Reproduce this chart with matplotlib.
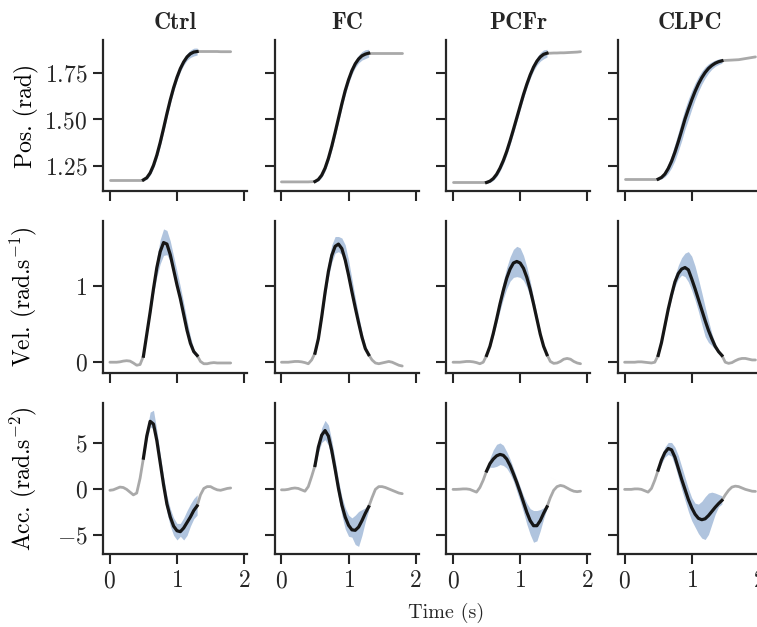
import matplotlib
matplotlib.use('Agg')
import matplotlib.pyplot as plt

# Data (time in s)
columns = ['Ctrl', 'FC', 'PCFr', 'CLPC']
row_labels = ['Pos. (rad)', 'Vel. (rad.s$^{-1}$)', 'Acc. (rad.s$^{-2}$)']

t_pre = [0.0, 0.05, 0.1, 0.15, 0.2, 0.25, 0.3, 0.35, 0.4, 0.45, 0.5]

# --- Ctrl ---
ctrl_t = [0.5, 0.55, 0.6, 0.65, 0.7, 0.75, 0.8, 0.85, 0.9, 0.95, 1.0, 1.05, 1.1, 1.15, 1.2, 1.25, 1.3]
ctrl_t_post = [1.3, 1.35, 1.4, 1.45, 1.5, 1.55, 1.6, 1.65, 1.7, 1.75, 1.8]
ctrl_pos_pre = [1.175, 1.175, 1.175, 1.175, 1.175, 1.175, 1.175, 1.175, 1.175, 1.175, 1.175]
ctrl_pos = [1.175, 1.186, 1.212, 1.253, 1.308, 1.376, 1.452, 1.531, 1.605, 1.671, 1.727, 1.774, 1.810, 1.837, 1.854, 1.863, 1.866]
ctrl_pos_hw = [0.004, 0.008, 0.012, 0.016, 0.019, 0.021, 0.022, 0.022, 0.021, 0.020, 0.018, 0.017, 0.017, 0.018, 0.020, 0.021, 0.019]
ctrl_pos_post = [1.866, 1.866, 1.866, 1.866, 1.866, 1.866, 1.866, 1.865, 1.865, 1.865, 1.865]
ctrl_vel_pre = [0.0, 0.0, 0.0, 0.005, 0.015, 0.02, 0.015, -0.01, -0.04, -0.03, 0.08]
ctrl_vel = [0.08, 0.37, 0.66, 0.97, 1.25, 1.46, 1.58, 1.56, 1.42, 1.22, 1.02, 0.84, 0.63, 0.42, 0.25, 0.14, 0.09]
ctrl_vel_lo = [0.07, 0.35, 0.62, 0.90, 1.13, 1.30, 1.41, 1.42, 1.33, 1.15, 0.96, 0.77, 0.57, 0.37, 0.21, 0.11, 0.07]
ctrl_vel_hi = [0.09, 0.40, 0.72, 1.06, 1.38, 1.62, 1.76, 1.74, 1.60, 1.40, 1.20, 1.00, 0.78, 0.55, 0.34, 0.18, 0.11]
ctrl_vel_post = [0.09, 0.01, -0.02, -0.02, -0.01, -0.005, -0.01, -0.01, -0.01, -0.01, -0.01]
ctrl_acc_pre = [-0.1, -0.05, 0.1, 0.25, 0.2, 0.0, -0.3, -0.6, -0.4, 1.2, 3.4]
ctrl_acc = [3.4, 5.8, 7.4, 7.1, 5.3, 2.9, 0.5, -1.6, -3.0, -4.0, -4.5, -4.6, -4.2, -3.6, -3.0, -2.3, -1.8]
ctrl_acc_lo = [3.1, 5.3, 6.8, 6.6, 4.6, 2.1, -0.4, -2.5, -4.0, -5.0, -5.5, -5.1, -5.5, -5.0, -4.0, -3.2, -2.8]
ctrl_acc_hi = [3.7, 6.4, 8.4, 8.6, 6.4, 3.8, 1.4, -0.7, -2.1, -3.1, -3.7, -3.7, -3.1, -2.3, -1.6, -1.0, -0.6]
ctrl_acc_post = [-1.8, -0.6, 0.1, 0.3, 0.3, 0.1, -0.05, -0.1, 0.0, 0.1, 0.15]

# --- FC ---
fc_t = [0.5, 0.55, 0.6, 0.65, 0.7, 0.75, 0.8, 0.85, 0.9, 0.95, 1.0, 1.05, 1.1, 1.15, 1.2, 1.25, 1.3]
fc_t_post = [1.3, 1.35, 1.4, 1.45, 1.5, 1.55, 1.6, 1.65, 1.7, 1.75, 1.8]
fc_pos_pre = [1.164, 1.164, 1.164, 1.164, 1.164, 1.164, 1.164, 1.164, 1.164, 1.165, 1.166]
fc_pos = [1.166, 1.177, 1.200, 1.238, 1.291, 1.356, 1.430, 1.507, 1.584, 1.655, 1.714, 1.763, 1.800, 1.826, 1.843, 1.852, 1.857]
fc_pos_hw = [0.004, 0.008, 0.012, 0.016, 0.019, 0.021, 0.023, 0.023, 0.023, 0.022, 0.021, 0.020, 0.020, 0.021, 0.023, 0.024, 0.021]
fc_pos_post = [1.857, 1.857, 1.857, 1.857, 1.857, 1.857, 1.857, 1.857, 1.857, 1.857, 1.857]
fc_vel_pre = [0.0, 0.0, 0.0, 0.005, 0.01, 0.01, 0.005, -0.005, -0.02, 0.03, 0.12]
fc_vel = [0.12, 0.31, 0.60, 0.92, 1.20, 1.41, 1.53, 1.56, 1.50, 1.35, 1.15, 0.93, 0.72, 0.52, 0.33, 0.18, 0.10]
fc_vel_lo = [0.10, 0.28, 0.55, 0.85, 1.12, 1.32, 1.44, 1.46, 1.42, 1.28, 1.07, 0.85, 0.66, 0.47, 0.29, 0.16, 0.09]
fc_vel_hi = [0.14, 0.35, 0.68, 1.02, 1.33, 1.55, 1.66, 1.66, 1.64, 1.55, 1.35, 1.10, 0.85, 0.62, 0.40, 0.22, 0.12]
fc_vel_post = [0.10, 0.03, -0.01, -0.02, -0.01, 0.0, 0.01, 0.0, -0.02, -0.04, -0.05]
fc_acc_pre = [-0.05, -0.05, 0.0, 0.1, 0.15, 0.1, -0.05, -0.2, 0.3, 1.4, 2.6]
fc_acc = [2.6, 4.6, 5.9, 6.4, 5.8, 4.2, 2.2, 0.1, -1.7, -3.0, -3.9, -4.4, -4.45, -4.1, -3.4, -2.6, -1.9]
fc_acc_lo = [2.3, 4.0, 5.1, 5.4, 4.8, 3.2, 1.2, -0.9, -2.8, -4.3, -5.1, -5.2, -6.0, -6.2, -5.0, -3.5, -2.3]
fc_acc_hi = [2.9, 5.1, 6.7, 7.5, 7.0, 5.3, 3.2, 1.0, -0.8, -2.0, -2.8, -3.1, -2.8, -2.4, -2.2, -2.0, -1.6]
fc_acc_post = [-1.9, -0.9, 0.0, 0.3, 0.3, 0.2, 0.05, -0.1, -0.25, -0.4, -0.47]

# --- PCFr ---
pcfr_t = [0.5, 0.55, 0.6, 0.65, 0.7, 0.75, 0.8, 0.85, 0.9, 0.95, 1.0, 1.05, 1.1, 1.15, 1.2, 1.25, 1.3, 1.35, 1.4]
pcfr_t_post = [1.4, 1.45, 1.5, 1.55, 1.6, 1.65, 1.7, 1.75, 1.8, 1.85, 1.9]
pcfr_pos_pre = [1.161, 1.161, 1.161, 1.161, 1.161, 1.161, 1.161, 1.161, 1.161, 1.161, 1.161]
pcfr_pos = [1.161, 1.168, 1.182, 1.205, 1.238, 1.279, 1.328, 1.385, 1.446, 1.509, 1.572, 1.634, 1.690, 1.740, 1.782, 1.814, 1.837, 1.851, 1.857]
pcfr_pos_hw = [0.004, 0.007, 0.010, 0.013, 0.016, 0.018, 0.020, 0.021, 0.022, 0.022, 0.021, 0.020, 0.019, 0.019, 0.020, 0.021, 0.023, 0.024, 0.021]
pcfr_pos_post = [1.857, 1.857, 1.858, 1.858, 1.859, 1.859, 1.860, 1.861, 1.862, 1.863, 1.865]
pcfr_vel_pre = [0.0, 0.0, 0.0, 0.005, 0.01, 0.01, 0.005, -0.005, -0.02, 0.0, 0.09]
pcfr_vel = [0.09, 0.21, 0.38, 0.57, 0.77, 0.95, 1.11, 1.23, 1.31, 1.33, 1.31, 1.24, 1.12, 0.96, 0.77, 0.57, 0.37, 0.21, 0.10]
pcfr_vel_lo = [0.08, 0.19, 0.34, 0.51, 0.68, 0.84, 0.97, 1.07, 1.12, 1.13, 1.12, 1.08, 0.99, 0.86, 0.70, 0.52, 0.34, 0.19, 0.09]
pcfr_vel_hi = [0.10, 0.23, 0.42, 0.64, 0.87, 1.07, 1.25, 1.39, 1.49, 1.53, 1.51, 1.41, 1.26, 1.07, 0.85, 0.63, 0.41, 0.23, 0.11]
pcfr_vel_post = [0.10, 0.01, -0.015, -0.01, 0.01, 0.04, 0.05, 0.04, 0.01, -0.01, -0.02]
pcfr_acc_pre = [0.0, 0.0, 0.02, 0.05, 0.05, 0.0, -0.15, -0.3, 0.2, 1.0, 2.0]
pcfr_acc = [2.0, 2.8, 3.3, 3.65, 3.8, 3.7, 3.3, 2.6, 1.7, 0.75, -0.3, -1.4, -2.5, -3.4, -3.95, -3.95, -3.4, -2.6, -1.9]
pcfr_acc_lo = [1.8, 2.4, 2.4, 2.5, 2.7, 2.6, 2.3, 1.7, 0.9, -0.2, -1.3, -2.5, -3.8, -4.9, -5.75, -5.6, -4.5, -3.2, -2.1]
pcfr_acc_hi = [2.2, 3.4, 4.3, 4.9, 5.05, 4.8, 4.1, 3.3, 2.3, 1.3, 0.3, -0.7, -1.5, -2.1, -2.3, -2.3, -2.2, -2.0, -1.7]
pcfr_acc_post = [-1.9, -0.9, -0.1, 0.3, 0.43, 0.35, 0.15, -0.05, -0.2, -0.25, -0.2]

# --- CLPC ---
clpc_t = [0.5, 0.55, 0.6, 0.65, 0.7, 0.75, 0.8, 0.85, 0.9, 0.95, 1.0, 1.05, 1.1, 1.15, 1.2, 1.25, 1.3, 1.35, 1.4, 1.45]
clpc_t_post = [1.45, 1.5, 1.55, 1.6, 1.65, 1.7, 1.75, 1.8, 1.85, 1.9, 1.95]
clpc_pos_pre = [1.179, 1.179, 1.179, 1.179, 1.179, 1.179, 1.179, 1.179, 1.179, 1.179, 1.179]
clpc_pos = [1.179, 1.188, 1.206, 1.236, 1.275, 1.324, 1.380, 1.440, 1.502, 1.555, 1.605, 1.651, 1.691, 1.725, 1.753, 1.775, 1.791, 1.803, 1.811, 1.816]
clpc_pos_hw = [0.004, 0.008, 0.015, 0.025, 0.035, 0.045, 0.050, 0.055, 0.055, 0.055, 0.050, 0.045, 0.040, 0.035, 0.030, 0.025, 0.020, 0.017, 0.015, 0.013]
clpc_pos_post = [1.816, 1.818, 1.819, 1.820, 1.821, 1.822, 1.825, 1.828, 1.831, 1.834, 1.837]
clpc_vel_pre = [0.0, 0.0, 0.0, 0.0, 0.005, 0.005, 0.0, -0.005, -0.01, 0.0, 0.09]
clpc_vel = [0.09, 0.26, 0.48, 0.70, 0.89, 1.06, 1.17, 1.23, 1.25, 1.22, 1.10, 0.97, 0.83, 0.69, 0.55, 0.42, 0.31, 0.21, 0.14, 0.09]
clpc_vel_lo = [0.08, 0.23, 0.44, 0.65, 0.84, 1.00, 1.10, 1.15, 1.13, 1.06, 0.95, 0.82, 0.67, 0.50, 0.34, 0.26, 0.22, 0.17, 0.12, 0.08]
clpc_vel_hi = [0.10, 0.29, 0.52, 0.75, 0.96, 1.14, 1.28, 1.38, 1.44, 1.46, 1.40, 1.27, 1.10, 0.92, 0.73, 0.55, 0.38, 0.25, 0.16, 0.10]
clpc_vel_post = [0.09, 0.0, -0.015, -0.005, 0.02, 0.04, 0.05, 0.05, 0.04, 0.03, 0.03]
clpc_acc_pre = [0.0, 0.0, 0.0, 0.05, 0.05, 0.0, -0.15, -0.3, 0.1, 1.0, 2.1]
clpc_acc = [2.1, 3.2, 4.0, 4.45, 4.3, 3.5, 2.3, 1.1, 0.0, -1.1, -2.0, -2.7, -3.15, -3.3, -3.2, -2.85, -2.4, -1.95, -1.55, -1.2]
clpc_acc_lo = [1.9, 2.8, 3.5, 3.8, 3.6, 2.6, 1.3, 0.0, -1.2, -2.4, -3.4, -4.1, -4.8, -5.3, -5.45, -4.9, -3.8, -2.7, -1.9, -1.6]
clpc_acc_hi = [2.3, 3.6, 4.6, 5.1, 5.1, 4.6, 3.7, 2.5, 1.3, 0.1, -0.9, -1.5, -1.6, -1.3, -0.8, -0.4, -0.3, -0.4, -0.55, -0.7]
clpc_acc_post = [-1.2, -0.6, -0.1, 0.25, 0.35, 0.3, 0.15, 0.0, -0.1, -0.2, -0.22]


def pos_band(mean, hw):
    return [m - h for m, h in zip(mean, hw)], [m + h for m, h in zip(mean, hw)]


# one entry per column: (t, t_post, rows) where rows = [(pre, mean, lo, hi, post), ...]
panels = []
for t, tp, pp, p, phw, ppo, vp, v, vlo, vhi, vpo, ap, a, alo, ahi, apo in [
    (ctrl_t, ctrl_t_post, ctrl_pos_pre, ctrl_pos, ctrl_pos_hw, ctrl_pos_post,
     ctrl_vel_pre, ctrl_vel, ctrl_vel_lo, ctrl_vel_hi, ctrl_vel_post,
     ctrl_acc_pre, ctrl_acc, ctrl_acc_lo, ctrl_acc_hi, ctrl_acc_post),
    (fc_t, fc_t_post, fc_pos_pre, fc_pos, fc_pos_hw, fc_pos_post,
     fc_vel_pre, fc_vel, fc_vel_lo, fc_vel_hi, fc_vel_post,
     fc_acc_pre, fc_acc, fc_acc_lo, fc_acc_hi, fc_acc_post),
    (pcfr_t, pcfr_t_post, pcfr_pos_pre, pcfr_pos, pcfr_pos_hw, pcfr_pos_post,
     pcfr_vel_pre, pcfr_vel, pcfr_vel_lo, pcfr_vel_hi, pcfr_vel_post,
     pcfr_acc_pre, pcfr_acc, pcfr_acc_lo, pcfr_acc_hi, pcfr_acc_post),
    (clpc_t, clpc_t_post, clpc_pos_pre, clpc_pos, clpc_pos_hw, clpc_pos_post,
     clpc_vel_pre, clpc_vel, clpc_vel_lo, clpc_vel_hi, clpc_vel_post,
     clpc_acc_pre, clpc_acc, clpc_acc_lo, clpc_acc_hi, clpc_acc_post),
]:
    plo, phi = pos_band(p, phw)
    panels.append((t, tp, [(pp, p, plo, phi, ppo), (vp, v, vlo, vhi, vpo), (ap, a, alo, ahi, apo)]))

plt.rcParams.update({
    'font.family': 'cmr10',
    'mathtext.fontset': 'cm',
    'axes.formatter.use_mathtext': True,
    'font.size': 17,
    'text.color': '#262626',
    'axes.edgecolor': '#262626',
    'axes.linewidth': 1.6,
    'xtick.color': '#262626',
    'ytick.color': '#262626',
    'xtick.major.size': 7.5,
    'ytick.major.size': 7.5,
    'xtick.major.width': 1.5,
    'ytick.major.width': 1.5,
    'xtick.major.pad': 4,
    'ytick.major.pad': 4,
})

gray = '#a9a9a9'
band = '#b0c4de'
black = '#161616'

fig, axes = plt.subplots(3, 4, figsize=(7.57, 6.27), dpi=100, sharex='all', sharey='row')
fig.subplots_adjust(left=0.1365, right=1.0066, bottom=0.1164, top=0.9362, wspace=0.192, hspace=0.2)

for j, (t, tp, rows) in enumerate(panels):
    for i, (pre, mean, lo, hi, post) in enumerate(rows):
        ax = axes[i, j]
        ax.plot(t_pre, pre, color=gray, lw=2.0, solid_capstyle='round')
        ax.plot(tp, post, color=gray, lw=2.0, solid_capstyle='round')
        ax.fill_between(t, lo, hi, color=band, lw=0)
        ax.plot(t, mean, color=black, lw=2.3)
        ax.spines['top'].set_visible(False)
        ax.spines['right'].set_visible(False)
    axes[0, j].set_title(columns[j], fontfamily='cmb10', fontsize=17, pad=8)

axes[0, 0].set_ylim(1.114, 1.928)
axes[1, 0].set_ylim(-0.137, 1.859)
axes[2, 0].set_ylim(-7.03, 9.41)
axes[0, 0].set_yticks([1.25, 1.50, 1.75])
axes[1, 0].set_yticks([0, 1])
axes[2, 0].set_yticks([-5, 0, 5])
axes[0, 0].set_xlim(-0.0975, 2.0475)
axes[0, 0].set_xticks([0, 1, 2])

for i in range(3):
    axes[i, 0].set_ylabel(row_labels[i])
fig.align_ylabels(axes[:, 0])

fig.text(0.589, 0.022, 'Time (s)', ha='center', va='center', fontsize=14.5)

fig.savefig('out.png', dpi=100)
